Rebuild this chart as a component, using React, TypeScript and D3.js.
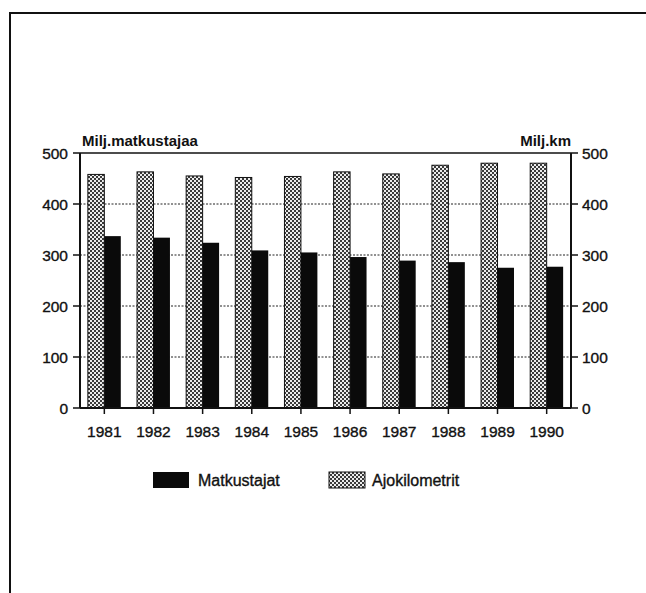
import React from "react";
import * as d3 from "d3";

const years = ["1981","1982","1983","1984","1985","1986","1987","1988","1989","1990"];
const matkustajat = [337, 334, 324, 309, 305, 296, 289, 286, 275, 277];
const ajokilometrit = [458, 463, 455, 452, 454, 463, 459, 476, 480, 480];
const yTicks = [0, 100, 200, 300, 400, 500];
const seriesNames = ["Matkustajat", "Ajokilometrit"];

const W = 646, H = 593;
const left = 80, right = 571, top = 153, bottom = 408;
const FONT = "'Liberation Sans', Arial, Helvetica, sans-serif";
const FS = 15.5;

export default function App() {
  const x = d3.scaleBand<string>().domain(years).range([left, right]).paddingInner(0.33).paddingOuter(0.16);
  const y = d3.scaleLinear().domain([0, 500]).range([bottom, top]);
  const bw = x.bandwidth() / 2;
  const txt = { fontFamily: FONT, fontSize: FS, fill: "#111", stroke: "#111", strokeWidth: 0.35 } as const;
  return (
    <div style={{ position: "fixed", left: 0, top: 0, width: W, height: H, overflow: "hidden", background: "#fff" }}>
      <svg width={W} height={H} style={{ display: "block" }}>
        <defs>
          <pattern id="chk" width={4} height={4} patternUnits="userSpaceOnUse">
            <rect width={4} height={4} fill="#ececec" />
            <rect x={0} y={0} width={2} height={2} fill="#3a3a3a" />
            <rect x={2} y={2} width={2} height={2} fill="#3a3a3a" />
          </pattern>
        </defs>
        <rect x={0} y={0} width={W} height={H} fill="#fff" />
        {/* frame */}
        <line x1={10} x2={10} y1={12} y2={H} stroke="#111" strokeWidth={2} />
        <line x1={9} x2={W} y1={13} y2={13} stroke="#111" strokeWidth={2} />
        {/* gridlines */}
        {yTicks.filter(t => t > 0 && t < 500).map(t => (
          <line key={t} x1={left} x2={right} y1={y(t)} y2={y(t)} stroke="#222" strokeWidth={1} strokeDasharray="2,1.5" />
        ))}
        {/* bars */}
        {years.map((yr, i) => (
          <g key={yr}>
            <rect x={x(yr)!} y={y(ajokilometrit[i])} width={bw} height={bottom - y(ajokilometrit[i])} fill="url(#chk)" stroke="#111" strokeWidth={1} />
            <rect x={x(yr)! + bw} y={y(matkustajat[i])} width={bw} height={bottom - y(matkustajat[i])} fill="#0a0a0a" />
          </g>
        ))}
        {/* axes */}
        <line x1={left} x2={right} y1={top} y2={top} stroke="#111" strokeWidth={1.5} />
        <line x1={left} x2={right} y1={bottom} y2={bottom} stroke="#111" strokeWidth={2} />
        <line x1={left} x2={left} y1={top} y2={bottom} stroke="#111" strokeWidth={2} />
        <line x1={right} x2={right} y1={top} y2={bottom} stroke="#111" strokeWidth={2} />
        {yTicks.map(t => (
          <g key={t}>
            <line x1={left - 7} x2={left} y1={y(t)} y2={y(t)} stroke="#111" strokeWidth={1.5} />
            <line x1={right} x2={right + 7} y1={y(t)} y2={y(t)} stroke="#111" strokeWidth={1.5} />
            <text x={68} y={y(t) + 5.5} textAnchor="end" {...txt}>{t}</text>
            <text x={582} y={y(t) + 5.5} textAnchor="start" {...txt}>{t}</text>
          </g>
        ))}
        {years.map(yr => (
          <g key={yr}>
            <line x1={x(yr)! + bw} x2={x(yr)! + bw} y1={bottom} y2={bottom + 6} stroke="#111" strokeWidth={1.5} />
            <text x={x(yr)! + bw} y={437} textAnchor="middle" {...txt}>{yr}</text>
          </g>
        ))}
        <text x={82} y={146} fontFamily={FONT} fontSize={15} fontWeight="bold" fill="#111">Milj.matkustajaa</text>
        <text x={571} y={146} textAnchor="end" fontFamily={FONT} fontSize={15} fontWeight="bold" fill="#111">Milj.km</text>
        {/* legend */}
        <rect x={153} y={472} width={36} height={16} fill="#0a0a0a" />
        <text x={198} y={486} {...txt} fontSize={16}>{seriesNames[0]}</text>
        <rect x={329} y={472} width={36} height={16} fill="url(#chk)" stroke="#111" strokeWidth={1} />
        <text x={372} y={486} {...txt} fontSize={16}>{seriesNames[1]}</text>
      </svg>
    </div>
  );
}
